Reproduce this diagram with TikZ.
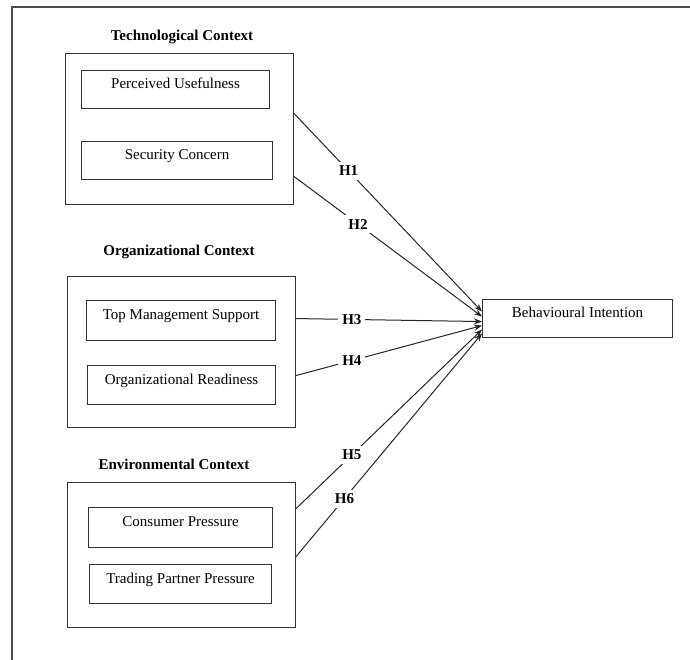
\documentclass[tikz,border=0pt]{standalone}
\usepackage{fontspec}
\setmainfont{Liberation Serif}
\usetikzlibrary{arrows.meta,calc}
\tikzset{
  txt/.style={font=\fontsize{15}{18}\selectfont},
  ibox/.style={txt, draw=black!80, line width=1.1pt, anchor=north west, inner sep=0pt,
               text height=11pt, text depth=13pt, minimum height=#1},
  obox/.style={draw=black!80, line width=1.1pt, anchor=north west, inner sep=0pt},
  ttl/.style={font=\fontsize{15}{18}\selectfont\bfseries, inner sep=1pt},
  conn/.style={draw=black!85, line width=1pt, -{Stealth[length=8pt,width=6pt]}},
  hl/.style={font=\fontsize{15}{18}\selectfont\bfseries, fill=white, inner sep=4pt},
}
\begin{document}
\begin{tikzpicture}[x=1pt,y=-1pt]
\useasboundingbox (0,0) rectangle (690,659);
% outer frame
\draw[black!70, line width=1.3pt] (12,660) -- (12,7) -- (691,7);

% titles
\node[ttl] (ttech) at (182,37) {Technological Context};
\node[ttl] (torg)  at (179,252) {Organizational Context};
\node[ttl] (tenv)  at (174,464) {Environmental Context};

% group boxes
\node[obox, minimum width=228pt, minimum height=151pt] (tech) at (65,53) {};
\node[obox, minimum width=228pt, minimum height=151pt] (org)  at (67,276) {};
\node[obox, minimum width=228pt, minimum height=145pt] (env)  at (67,482) {};

% inner boxes
\node[ibox=38pt, minimum width=188pt] (pu)  at (81,70)  {Perceived Usefulness};
\node[ibox=38pt, minimum width=191pt] (sc)  at (81,141) {Security Concern};
\node[ibox=40pt, minimum width=189pt] (tms) at (86,300) {Top Management Support};
\node[ibox=39pt, minimum width=188pt] (orr) at (87,365) {Organizational Readiness};
\node[ibox=40pt, minimum width=184pt] (cp)  at (88,507) {Consumer Pressure};
\node[ibox=39pt, minimum width=182pt] (tpp) at (89,564) {Trading Partner Pressure};

% target
\node[ibox=38pt, minimum width=190pt] (bi) at (482,299) {Behavioural Intention};

% connectors
\draw[conn] ([yshift=15.5pt]tech.east) -- node[hl,pos=0.29] {H1} ([yshift=7pt]bi.west);
\draw[conn] ([yshift=-47.5pt]tech.east) -- node[hl,pos=0.34] {H2} ([yshift=2pt]bi.west);
\draw[conn] ([yshift=33.5pt]org.east) -- node[hl,pos=0.30] {H3} ([yshift=-3pt]bi.west);
\draw[conn] ([yshift=-23.5pt]org.east) -- node[hl,pos=0.30] {H4} ([yshift=-7pt]bi.west);
\draw[conn] ([yshift=46.5pt]env.east) -- node[hl,pos=0.30] {H5} ([yshift=-11pt]bi.west);
\draw[conn] ([yshift=-1.5pt]env.east) -- node[hl,pos=0.26] {H6} ([yshift=-15pt]bi.west);
\end{tikzpicture}
\end{document}
